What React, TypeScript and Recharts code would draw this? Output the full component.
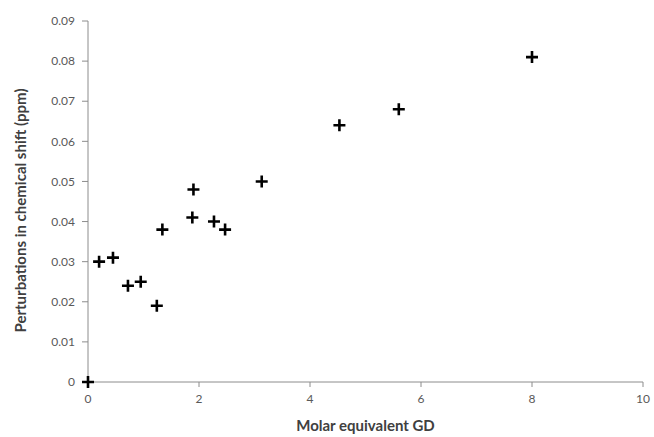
import { ScatterChart, Scatter, XAxis, YAxis, Label } from "recharts";

const molarEq = [0, 0.2, 0.45, 0.72, 0.95, 1.24, 1.34, 1.9, 1.88, 2.27, 2.47, 3.13, 4.53, 5.6, 8.0];
const shift = [0, 0.03, 0.031, 0.024, 0.025, 0.019, 0.038, 0.048, 0.041, 0.04, 0.038, 0.05, 0.064, 0.068, 0.081];
const xTicks = [0, 2, 4, 6, 8, 10];
const yTicks = [0, 0.01, 0.02, 0.03, 0.04, 0.05, 0.06, 0.07, 0.08, 0.09];

const data = molarEq.map((x, i) => ({ x, y: shift[i] }));

const font = "Lato, 'Open Sans', sans-serif";
const axisGray = "#8c8c8c";
const titleStyle = { fill: "#404040", fontSize: 15, fontWeight: 700, fontFamily: font };

// plus-sign marker like the Excel original
const Plus = (props: any) => {
    const { cx, cy } = props;
    const r = 6;
    return (
        <path
            d={`M${cx - r},${cy} H${cx + r} M${cx},${cy - r} V${cy + r}`}
            stroke="#000"
            strokeWidth={2.6}
            fill="none"
        />
    );
};

// rotated y title, nudged a bit below the plot centre like the original
const YTitle = (props: any) => {
    const vb = props.viewBox;
    const x = vb.x + 20;
    const y = vb.y + vb.height / 2 + 9;
    return (
        <text x={x} y={y} transform={`rotate(-90 ${x} ${y})`} textAnchor="middle" dominantBaseline="central" style={titleStyle}>
            Perturbations in chemical shift (ppm)
        </text>
    );
};

export default function App() {
    return (
        <div style={{ position: "absolute", left: 0, top: 0, width: 654, height: 437, background: "#fff" }}>
            <ScatterChart width={654} height={437} margin={{ top: 21, right: 11, bottom: 0, left: 0 }}>
                <XAxis
                    type="number"
                    dataKey="x"
                    domain={[0, 10]}
                    ticks={xTicks}
                    height={55}
                    tickSize={5}
                    tickMargin={7}
                    stroke={axisGray}
                    tick={{ fill: "#595959", fontSize: 12, fontFamily: font }}
                >
                    <Label value="Molar equivalent GD" position="insideBottom" offset={6} style={titleStyle} />
                </XAxis>
                <YAxis
                    type="number"
                    dataKey="y"
                    domain={[0, 0.09]}
                    ticks={yTicks}
                    width={88}
                    tickSize={6}
                    tickMargin={7}
                    stroke={axisGray}
                    tickFormatter={(v: number) => (v === 0 ? "0" : v.toFixed(2))}
                    tick={{ fill: "#595959", fontSize: 12, fontFamily: font }}
                >
                    <Label content={YTitle} />
                </YAxis>
                <Scatter data={data} shape={Plus} isAnimationActive={false} />
            </ScatterChart>
        </div>
    );
}
